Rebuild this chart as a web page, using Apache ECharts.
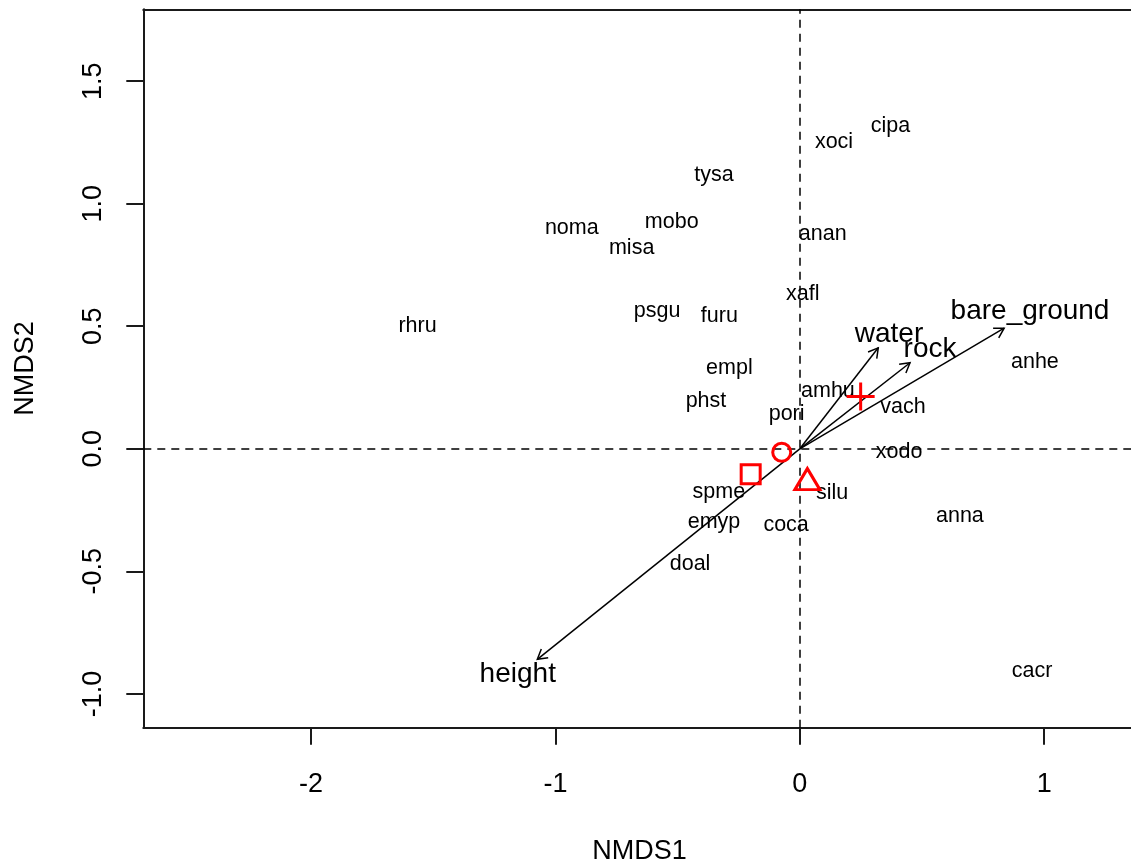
<!DOCTYPE html>
<html>
<head>
<meta charset="utf-8">
<script src="https://cdn.jsdelivr.net/npm/echarts@6/dist/echarts.min.js"></script>
<style>
  html, body { margin: 0; padding: 0; background: #ffffff; }
  #chart { width: 1131px; height: 864px; }
</style>
</head>
<body>
<div id="chart"></div>
<script>
// ---- data ----
const xTicks = [-2, -1, 0, 1];
const yTicks = [-1.0, -0.5, 0.0, 0.5, 1.0, 1.5];

const species = ['cipa','xoci','tysa','mobo','noma','misa','anan','xafl','rhru','psgu','furu','empl','phst','amhu','pori','vach','anhe','xodo','spme','silu','emyp','coca','anna','doal','cacr'];
const speciesX = [0.371, 0.140, -0.351, -0.524, -0.933, -0.688, 0.094, 0.012, -1.564, -0.584, -0.329, -0.288, -0.384, 0.115, -0.054, 0.422, 0.962, 0.406, -0.331, 0.132, -0.351, -0.056, 0.655, -0.449, 0.950];
const speciesY = [1.326, 1.259, 1.125, 0.932, 0.909, 0.827, 0.885, 0.640, 0.510, 0.568, 0.551, 0.338, 0.204, 0.245, 0.150, 0.180, 0.364, -0.006, -0.169, -0.172, -0.292, -0.302, -0.265, -0.462, -0.897];

const envNames = ['bare_ground', 'water', 'rock', 'height'];
const envX = [0.836, 0.321, 0.451, -1.074];
const envY = [0.492, 0.412, 0.351, -0.859];
const envLabelX = [0.942, 0.365, 0.533, -1.154];
const envLabelY = [0.573, 0.478, 0.417, -0.909];

const centroidShapes = ['circle', 'rect', 'triangle', 'plus'];
const centroidX = [-0.074, -0.201, 0.031, 0.249];
const centroidY = [-0.014, -0.104, -0.124, 0.213];

// ---- chart ----
const FONT = '"Liberation Sans", Arial, sans-serif';
const X_MIN = -2.6862, X_MAX = 1.3744, Y_MIN = -1.1379, Y_MAX = 1.7931;

const shapeSymbol = {
  circle: { symbol: 'circle', size: 18 },
  rect: { symbol: 'rect', size: 19 },
  triangle: { symbol: 'triangle', size: [25, 21] },
  plus: { symbol: 'path://M10,0L10,20M0,10L20,10', size: 28 }
};

const chart = echarts.init(document.getElementById('chart'), null, { renderer: 'canvas' });

const option = {
  animation: false,
  backgroundColor: '#ffffff',
  textStyle: { fontFamily: FONT },
  grid: { left: 143.3, top: 9.3, width: 992.4, height: 718.4, containLabel: false, outerBoundsMode: 'none' },
  xAxis: [{
    type: 'value', min: X_MIN, max: X_MAX, position: 'bottom',
    name: 'NMDS1', nameLocation: 'middle', nameGap: 110,
    nameTextStyle: { fontSize: 27, color: '#000', fontFamily: FONT },
    axisLine: { show: true, onZero: false, lineStyle: { color: '#1a1a1a', width: 2 } },
    axisTick: { show: true, length: 17, customValues: xTicks, lineStyle: { color: '#1a1a1a', width: 2 } },
    axisLabel: { show: true, customValues: xTicks, margin: 43, fontSize: 27, color: '#000', fontFamily: FONT,
      formatter: v => String(Math.round(v)) },
    splitLine: { show: false }
  }, {
    type: 'value', min: X_MIN, max: X_MAX, position: 'top',
    axisLine: { show: true, onZero: false, lineStyle: { color: '#1a1a1a', width: 2 } },
    axisTick: { show: false }, axisLabel: { show: false }, splitLine: { show: false }
  }],
  yAxis: [{
    type: 'value', min: Y_MIN, max: Y_MAX, position: 'left',
    name: 'NMDS2', nameLocation: 'middle', nameGap: 104,
    nameTextStyle: { fontSize: 27, color: '#000', fontFamily: FONT },
    axisLine: { show: true, onZero: false, lineStyle: { color: '#1a1a1a', width: 2 } },
    axisTick: { show: true, length: 17, customValues: yTicks, lineStyle: { color: '#1a1a1a', width: 2 } },
    axisLabel: { show: true, customValues: yTicks, rotate: 90, margin: 36, fontSize: 27, color: '#000', fontFamily: FONT,
      formatter: v => v.toFixed(1) },
    splitLine: { show: false }
  }],
  series: [
    {
      name: 'zero-lines', type: 'scatter', data: [], z: 1, silent: true,
      markLine: {
        silent: true, symbol: 'none', animation: false,
        label: { show: false },
        lineStyle: { color: '#000', width: 1.5, type: [8, 6], opacity: 1 },
        data: [{ xAxis: 0 }, { yAxis: 0 }]
      }
    },
    {
      name: 'species', type: 'scatter', z: 3, silent: true,
      symbolSize: 0,
      itemStyle: { opacity: 1 },
      data: species.map((s, i) => ({ value: [speciesX[i], speciesY[i]], name: s })),
      label: { show: true, position: 'inside', offset: [0, 2], formatter: p => p.name, fontSize: 21.5, color: '#000',
        textBorderWidth: 0, fontFamily: FONT, align: 'center', verticalAlign: 'middle' }
    },
    {
      name: 'env-arrows', type: 'custom', z: 4, silent: true,
      data: envNames.map((n, i) => [envX[i], envY[i]]),
      renderItem: function (params, api) {
        const o = api.coord([0, 0]);
        const t = api.coord([api.value(0), api.value(1)]);
        const ang = Math.atan2(t[1] - o[1], t[0] - o[0]);
        const L = 11, a = Math.PI / 6;
        const h1 = [t[0] - L * Math.cos(ang - a), t[1] - L * Math.sin(ang - a)];
        const h2 = [t[0] - L * Math.cos(ang + a), t[1] - L * Math.sin(ang + a)];
        const st = { stroke: '#000', lineWidth: 1.5, fill: null };
        return {
          type: 'group',
          children: [
            { type: 'line', shape: { x1: o[0], y1: o[1], x2: t[0], y2: t[1] }, style: st },
            { type: 'polyline', shape: { points: [h1, t, h2] }, style: st }
          ]
        };
      }
    },
    {
      name: 'env-labels', type: 'scatter', z: 5, silent: true,
      symbolSize: 0,
      itemStyle: { opacity: 1 },
      data: envNames.map((n, i) => ({ value: [envLabelX[i], envLabelY[i]], name: n })),
      label: { show: true, position: 'inside', offset: [0, 3], formatter: p => p.name, fontSize: 28, color: '#000',
        textBorderWidth: 0, fontFamily: FONT, align: 'center', verticalAlign: 'middle' }
    },
    {
      name: 'centroids', type: 'scatter', z: 6, silent: true,
      data: centroidShapes.map((s, i) => ({
        value: [centroidX[i], centroidY[i]],
        symbol: shapeSymbol[s].symbol,
        symbolSize: shapeSymbol[s].size
      })),
      itemStyle: { color: 'rgba(0,0,0,0)', borderColor: '#ff0000', borderWidth: 3, opacity: 1 }
    }
  ]
};

chart.setOption(option);
</script>
</body>
</html>
